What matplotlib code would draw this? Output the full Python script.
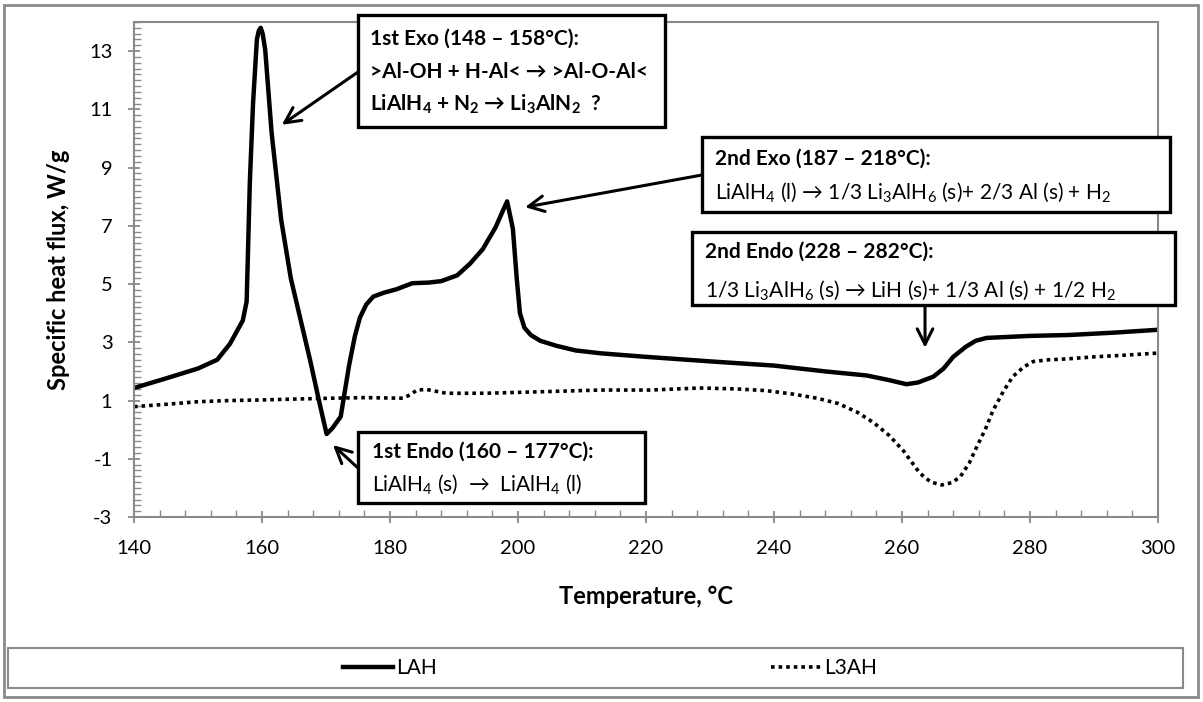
import numpy as np
import matplotlib
matplotlib.use("Agg")
import matplotlib.pyplot as plt
from matplotlib.patches import Rectangle
from matplotlib.lines import Line2D
from matplotlib.ticker import MultipleLocator

plt.rcParams['font.family'] = ['Lato', 'DejaVu Sans']
plt.rcParams['mathtext.fontset'] = 'custom'
plt.rcParams['mathtext.rm'] = 'Lato'
plt.rcParams['mathtext.default'] = 'regular'
plt.rcParams['axes.unicode_minus'] = False

# LAH (solid) curve, temperature in C / heat flux in W/g
lah_T = [140, 145, 150, 153, 155, 157, 157.6, 158.1, 158.6, 159.2, 159.5, 159.8,
         160.1, 160.5, 161.5, 163, 164.5, 166, 167.5, 169, 170.1, 171, 172.3, 173.6,
         174.5, 175.3, 176.3, 177.4, 179, 181, 183.5, 186, 188, 190.5, 192.5, 194.5,
         196.5, 197.6, 198.3, 199.2, 199.8, 200.3, 201, 202, 203.5, 206, 209, 213, 220,
         231, 240, 248, 254.5, 258, 260.7, 262.5, 264.9, 266.5, 268, 270, 271.5,
         273.2, 280, 286, 293, 300]
lah_hf = [1.43, 1.76, 2.1, 2.4, 2.95, 3.75, 4.4, 8.5, 11.2, 13.4, 13.7, 13.8,
          13.6, 13.05, 10.2, 7.2, 5.2, 3.8, 2.4, 0.9, -0.15, 0.05, 0.45, 2.2,
          3.2, 3.85, 4.3, 4.57, 4.7, 4.82, 5.03, 5.05, 5.1, 5.3, 5.7, 6.2,
          6.95, 7.5, 7.84, 6.9, 5.2, 4.0, 3.5, 3.25, 3.05, 2.88, 2.72, 2.62, 2.5,
          2.33, 2.2, 2.0, 1.86, 1.7, 1.56, 1.62, 1.82, 2.1, 2.5, 2.85, 3.05,
          3.15, 3.22, 3.25, 3.33, 3.43]

# L3AH (dotted) curve
l3ah_T = [140, 145, 150, 155, 160, 165, 171, 176, 182, 183.2, 184.2, 185.7, 188.8,
          195, 205, 212.8, 220.6, 228.4, 234, 238.8, 243, 246.7, 250, 253, 255.5,
          258, 260.2, 262.8, 264.5, 266.2, 267.8, 269.1, 270.5, 271.7, 273, 274.2,
          275.8, 277.3, 279, 280.5, 283, 285.8, 290, 295, 300]
l3ah_hf = [0.79, 0.87, 0.96, 1.0, 1.02, 1.05, 1.08, 1.1, 1.08, 1.2, 1.36, 1.38, 1.25,
           1.25, 1.31, 1.36, 1.36, 1.43, 1.4, 1.34, 1.22, 1.08, 0.9, 0.6, 0.25,
           -0.2, -0.72, -1.5, -1.8, -1.9, -1.82, -1.62, -1.15, -0.58, 0.0, 0.65,
           1.3, 1.82, 2.15, 2.34, 2.4, 2.43, 2.5, 2.56, 2.63]

x_ticks = [140, 160, 180, 200, 220, 240, 260, 280, 300]
y_ticks = [-3, -1, 1, 3, 5, 7, 9, 11, 13]

W, H = 1203, 702
fig = plt.figure(figsize=(W / 100, H / 100), dpi=100)
ax = fig.add_axes([134 / W, 1 - 517 / H, 1024 / W, 495 / H])

ax.plot(lah_T, lah_hf, color='black', lw=3.2, solid_joinstyle='round', label='LAH')
ax.plot(l3ah_T, l3ah_hf, color='black', lw=2.6, linestyle=(0, (1, 1.1)), label='L3AH')

ax.set_xlim(140, 300)
ax.set_ylim(-3, 14)
ax.set_xticks(x_ticks)
ax.set_yticks(y_ticks)
ax.xaxis.set_minor_locator(MultipleLocator(4))
ax.yaxis.set_minor_locator(MultipleLocator(0.2))
grey = '#8a8a8a'
for s in ax.spines.values():
    s.set_color(grey)
    s.set_linewidth(1.5)
ax.tick_params(which='major', direction='inout', length=9, width=1.3, color=grey,
               labelsize=14.5)
ax.tick_params(axis='x', which='major', pad=12)
ax.tick_params(axis='y', which='major', pad=11)
ax.tick_params(which='minor', direction='in', length=5, width=1.0, color=grey)

ax.set_xlabel('Temperature, °C', fontsize=17, fontweight='bold', labelpad=20)
ax.set_ylabel('Specific heat flux, W/g', fontsize=17, fontweight='bold', labelpad=14)


def fx(x):
    return x / W


def fy(y):
    return 1 - y / H


def box(x0, y0, x1, y1, lines, tx):
    fig.add_artist(Rectangle((fx(x0), fy(y1)), (x1 - x0) / W, (y1 - y0) / H,
                             transform=fig.transFigure, facecolor='white',
                             edgecolor='black', lw=2.4, zorder=5))
    for ty, s, wt in lines:
        fig.text(fx(tx), fy(ty), s, fontsize=15, fontweight=wt, va='center',
                 ha='left', zorder=6)


box(358, 15, 665, 127, [(39, '1st Exo (148 – 158°C):', 'bold'),
                        (72, '>Al-OH + H-Al< → >Al-O-Al<', 'bold'),
                        (104, 'LiAlH$_4$ + N$_2$ → Li$_3$AlN$_2$  ?', 'bold')], 370)
box(702, 137, 1170, 212, [(159, '2nd Exo (187 – 218°C):', 'bold'),
                          (192, 'LiAlH$_4$ (l) → 1/3 Li$_3$AlH$_6$ (s)+ 2/3 Al (s) + H$_2$', 'normal')], 715)
box(692, 232, 1175, 305, [(252, '2nd Endo (228 – 282°C):', 'bold'),
                          (290, '1/3 Li$_3$AlH$_6$ (s) → LiH (s)+ 1/3 Al (s) + 1/2 H$_2$', 'normal')], 705)
box(358, 432, 645, 503, [(452, '1st Endo (160 – 177°C):', 'bold'),
                         (484, 'LiAlH$_4$ (s)  →  LiAlH$_4$ (l)', 'normal')], 372)

arrows = [((163.1, 10.47), (358, H - 72)),
          ((201.1, 7.64), (702, H - 175)),
          ((263.6, 2.81), (925, H - 305)),
          ((171.1, -0.53), (358, H - 468))]
for head, tail in arrows:
    ax.annotate('', xy=head, xycoords='data', xytext=tail, textcoords='figure pixels',
                arrowprops=dict(arrowstyle='->', lw=2.2, color='black',
                                mutation_scale=28, shrinkA=0, shrinkB=0))

# legend frame and outer frame
fig.add_artist(Rectangle((fx(8), fy(688)), (1183 - 8) / W, 40 / H,
                         transform=fig.transFigure, facecolor='none',
                         edgecolor=grey, lw=1.5))
fig.add_artist(Rectangle((fx(4), fy(697)), (1198 - 4) / W, 692 / H,
                         transform=fig.transFigure, facecolor='none',
                         edgecolor=grey, lw=2))
handles = [Line2D([], [], color='black', lw=3.2),
           Line2D([], [], color='black', lw=2.6, linestyle=(0, (1, 1.1)))]
fig.legend(handles, ['LAH', 'L3AH'], loc='center', bbox_to_anchor=(fx(610), fy(668)),
           ncol=2, frameon=False, fontsize=15, handlelength=2.4, handletextpad=0.15,
           columnspacing=16)

fig.savefig('out.png', dpi=100)
